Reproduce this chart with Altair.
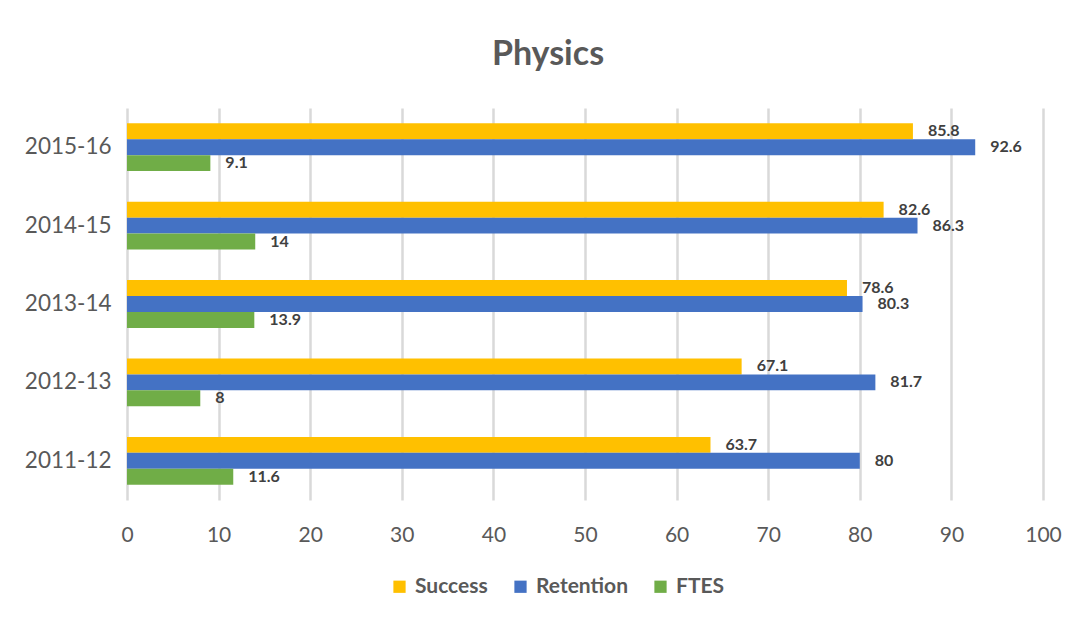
import altair as alt
import pandas as pd

years = ["2011-12", "2012-13", "2013-14", "2014-15", "2015-16"]
series = ["Success", "Retention", "FTES"]
success = [63.7, 67.1, 78.6, 82.6, 85.8]
retention = [80, 81.7, 80.3, 86.3, 92.6]
ftes = [11.6, 8, 13.9, 14, 9.1]
colors = ["#FFC000", "#4472C4", "#70AD47"]
x_ticks = [0, 10, 20, 30, 40, 50, 60, 70, 80, 90, 100]

rows = []
for i, y in enumerate(years):
    for s, vals in zip(series, [success, retention, ftes]):
        rows.append({"year": y, "series": s, "value": vals[i]})
df = pd.DataFrame(rows)

FONT = "Lato"
year_order = list(reversed(years))

y_enc = alt.Y("year:N", sort=year_order, title=None,
              scale=alt.Scale(paddingInner=0.39, paddingOuter=0.195),
              axis=alt.Axis(labelFontSize=22.5, labelColor="#595959", labelFont=FONT,
                            labelPadding=16, ticks=False, domain=False, grid=False))
yoff = alt.YOffset("series:N", sort=series, scale=alt.Scale(paddingInner=0, paddingOuter=0))
x_enc = alt.X("value:Q", title=None,
              scale=alt.Scale(domain=[0, 100], nice=False),
              axis=alt.Axis(values=x_ticks, labelFontSize=21, labelColor="#595959", labelFont=FONT,
                            labelFlush=False,
                            ticks=False, domain=False, grid=True, gridColor="#D9D9D9",
                            gridWidth=2.5, labelPadding=24))

bars = alt.Chart(df).mark_bar(stroke=None).encode(
    y=y_enc, yOffset=yoff, x=x_enc,
    color=alt.Color("series:N", sort=series,
                    scale=alt.Scale(domain=series, range=colors),
                    legend=alt.Legend(title=None, orient="none", direction="horizontal",
                                      legendX=262, legendY=468,
                                      symbolType="square", symbolSize=150,
                                      labelFontSize=21, labelFontWeight="bold",
                                      labelColor="#595959", labelFont=FONT,
                                      columnPadding=22, symbolStrokeWidth=0, labelOffset=5)),
)

labels = alt.Chart(df).mark_text(align="left", baseline="middle", dx=15, fontSize=16,
                                 fontWeight="bold", color="#404040", font=FONT).encode(
    y=alt.Y("year:N", sort=year_order), yOffset=alt.YOffset("series:N", sort=series),
    x=alt.X("value:Q"), text=alt.Text("value:Q"),
)

chart = (bars + labels).properties(
    width=916, height=392,
    title=alt.TitleParams("Physics", fontSize=34, fontWeight="bold", color="#595959",
                          font=FONT, anchor="middle", offset=36, dx=-37),
    autosize=alt.AutoSizeParams(type="none"),
    padding={"left": 119, "top": 100, "right": 20, "bottom": 100},
).configure_view(stroke=None).configure_scale(bandPaddingInner=0)

chart.save("out.html", embed_options={"renderer": "svg", "actions": False})
